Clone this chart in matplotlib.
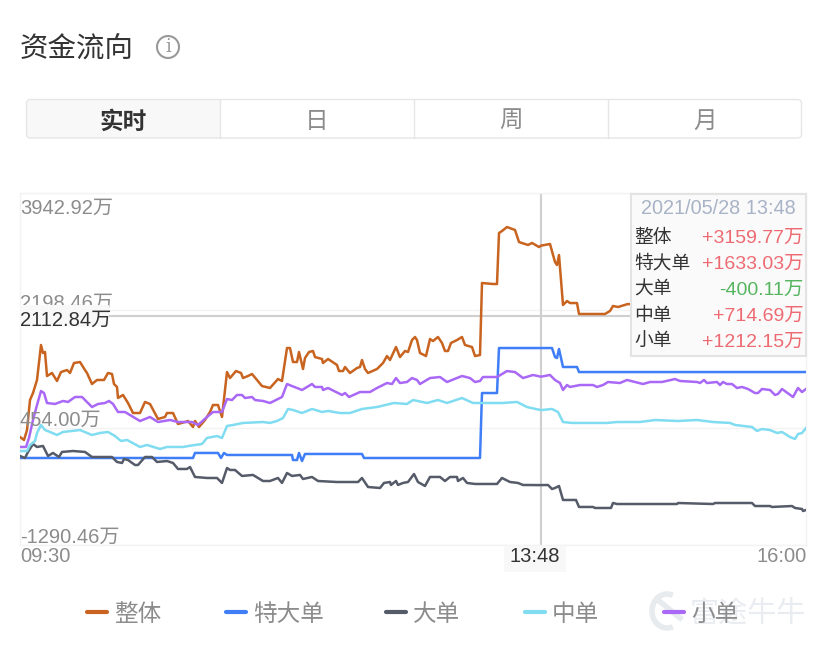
import matplotlib
matplotlib.use('Agg')
import matplotlib.pyplot as plt
from matplotlib.patches import Rectangle, FancyBboxPatch, Circle, Arc

plt.rcParams['font.family'] = ['Liberation Sans', 'Noto Sans CJK SC']

# x = sample index along the trading day (0 = 09:30, 786 = 16:00), values in 万
zhengti = [(0,315),(4,271),(7,419),(10,865),(13,969),(17,1163),(21,1683),(23,1564),(25,1579),(27,1222),(32,1267),
    (37,1148),(41,1281),(47,1311),(50,1267),(54,1415),(60,1430),(65,1311),(67,1267),(72,1103),(77,1163),(84,1163),
    (88,1267),(92,1252),(94,1103),(97,1059),(98,895),(103,940),(108,821),(113,672),(120,672),(125,836),(130,806),
    (138,583),(145,613),(147,672),(153,672),(158,509),(165,538),(168,553),(173,464),(175,553),(179,464),(185,568),
    (190,687),(193,791),(198,791),(202,613),(207,1281),(210,1192),(216,1296),(221,1267),(223,1192),(228,1222),
    (232,1252),(237,1163),(242,1073),(250,1044),(258,1177),(262,1148),(267,1638),(270,1638),(273,1430),(277,1430),
    (279,1579),(283,1326),(285,1490),(289,1579),(293,1594),(295,1504),(302,1475),(303,1415),(308,1475),(317,1386),
    (319,1296),(323,1296),(325,1356),(330,1267),(337,1341),(340,1356),(342,1460),(345,1326),(348,1267),(357,1326),
    (363,1415),(367,1519),(370,1460),(376,1653),(380,1504),(385,1594),(388,1579),(392,1757),(395,1802),(397,1757),
    (400,1564),(406,1519),(410,1772),(413,1742),(418,1802),(422,1713),(425,1594),(428,1594),(431,1713),(437,1757),
    (442,1802),(445,1683),(452,1653),(455,1519),(460,1534),(462,2605),(473,2590),(477,2590),(479,3348),(482,3378),
    (487,3437),(495,3393),(499,3214),(508,3170),(512,3200),(519,3140),(521,3160),(530,3185),(535,2917),(537,2872),
    (539,3021),(543,2278),(547,2337),(550,2307),(557,2307),(559,2144),(573,2144),(585,2144),(590,2189),(593,2263),
    (598,2248),(608,2293),(615,2278)]
tedadan = [(0,3),(173,3),(175,78),(198,78),(201,3),(204,78),(207,48),(272,48),(273,-27),(277,-27),(279,78),(282,-42),
    (285,63),(342,63),(344,3),(460,3),(462,969),(477,969),(479,1638),(532,1638),(535,1504),(537,1490),(539,1623),
    (543,1356),(557,1356),(559,1281),(786,1281)]
dadan = [(0,33),(5,3),(8,93),(13,211),(17,167),(23,182),(28,33),(33,78),(39,18),(42,93),(53,107),(65,93),(72,18),
    (92,18),(97,-56),(102,-71),(104,-12),(108,-27),(115,-101),(118,-101),(125,18),(132,18),(137,-56),(147,-42),
    (153,-71),(158,-160),(167,-160),(170,-131),(175,-279),(187,-294),(197,-294),(202,-368),(207,-146),(210,-175),
    (215,-175),(222,-264),(233,-249),(243,-339),(250,-339),(258,-294),(262,-368),(267,-220),(272,-264),(280,-249),
    (283,-309),(292,-279),(298,-339),(317,-354),(338,-354),(342,-294),(348,-428),(360,-443),(364,-368),(370,-354),
    (371,-398),(376,-339),(378,-398),(383,-368),(388,-354),(394,-235),(398,-354),(405,-413),(410,-279),(420,-279),
    (425,-339),(430,-279),(437,-279),(438,-339),(443,-294),(447,-368),(455,-383),(477,-383),(482,-294),(490,-354),
    (498,-368),(503,-398),(520,-400),(528,-398),(532,-458),(535,-443),(539,-413),(543,-621),(556,-621),(559,-725),
    (573,-725),(575,-740),(591,-740),(593,-666),(597,-681),(657,-681),(658,-666),(693,-681),(695,-666),(732,-666),
    (735,-711),(750,-711),(752,-725),(772,-711),(775,-740),(782,-755),(783,-785),(786,-770)]
zhongdan = [(0,107),(7,107),(10,197),(15,256),(17,375),(21,494),(25,419),(30,390),(37,345),(43,390),(52,405),(60,419),
    (72,345),(80,375),(88,390),(95,330),(101,256),(107,271),(120,167),(127,197),(140,137),(147,167),(163,167),
    (175,197),(182,211),(187,301),(197,330),(202,301),(207,479),(213,494),(223,524),(243,538),(250,524),(257,553),
    (263,598),(268,732),(273,717),(282,672),(292,732),(302,687),(308,702),(320,672),(330,672),(342,732),(357,761),
    (374,821),(387,806),(393,865),(407,821),(418,865),(427,821),(442,895),(453,821),(463,821),(483,821),(497,836),
    (507,761),(521,715),(532,732),(538,687),(543,538),(552,524),(587,524),(597,538),(620,538),(635,568),(658,553),
    (677,568),(693,538),(710,524),(715,494),(732,464),(737,405),(742,434),(750,419),(757,375),(762,390),(770,315),
    (775,286),(778,360),(782,375),(786,449)]
xiaodan = [(0,167),(6,167),(9,301),(13,568),(17,791),(21,999),(24,969),(27,821),(35,806),(43,851),(48,836),(55,910),
    (62,910),(72,761),(78,806),(85,821),(89,851),(93,806),(98,687),(105,687),(110,642),(120,553),(130,613),(138,538),
    (150,568),(158,538),(172,538),(178,494),(187,613),(193,687),(202,687),(207,880),(212,865),(217,940),(222,940),
    (225,895),(232,910),(235,865),(243,851),(250,821),(262,910),(267,1103),(272,1073),(277,1044),(282,1014),(292,1103),
    (295,1059),(302,1059),(303,1014),(308,1044),(322,940),(325,969),(329,910),(340,984),(350,984),(357,1044),(367,1118),
    (372,1103),(376,1192),(380,1118),(387,1133),(392,1192),(397,1163),(400,1103),(410,1192),(420,1207),(427,1133),
    (442,1222),(450,1192),(455,1133),(460,1148),(463,1207),(477,1207),(487,1296),(495,1281),(503,1192),(513,1237),
    (521,1212),(530,1237),(535,1163),(540,1118),(543,1014),(547,1088),(550,1059),(560,1088),(573,1088),(577,1059),
    (583,1088),(588,1133),(600,1118),(607,1163),(623,1103),(630,1133),(642,1133),(655,1177),(660,1148),(677,1133),
    (680,1118),(684,1163),(687,1118),(697,1133),(700,1088),(703,1133),(707,1103),(712,1103),(717,1044),(722,1059),
    (728,1029),(735,969),(738,969),(742,1029),(750,1014),(755,940),(758,955),(762,1029),(773,910),(778,1044),(782,984),
    (786,1029)]

names = ['整体', '特大单', '大单', '中单', '小单']
series = [zhengti, tedadan, dadan, zhongdan, xiaodan]
colors = ['#c8641f', '#3f7ef6', '#565b69', '#80dcf0', '#a968f5']

y_ticks = [3942.92, 2198.46, 454.00, -1290.46]
y_labels = ['3942.92万', '2198.46万', '454.00万', '-1290.46万']
cross_x = 521
cross_y = 2112.84
tip_date = '2021/05/28 13:48'
tip_values = ['+3159.77万', '+1633.03万', '-400.11万', '+714.69万', '+1212.15万']
tabs = ['实时', '日', '周', '月']

fig = plt.figure(figsize=(8.28, 6.49), dpi=100)
ax = fig.add_axes([20/828, (649-545)/649, 786/828, 352/649])
ax.set_xlim(0, 786)
ax.set_ylim(y_ticks[-1], y_ticks[0])
for s in ax.spines.values():
    s.set_color('#f3f3f3')
    s.set_linewidth(1)
ax.set_xticks([])
ax.set_yticks(y_ticks)
ax.tick_params(axis='y', length=0, labelleft=False)
ax.grid(axis='y', color='#f3f3f3', lw=1)

ax.axvline(cross_x, color='#cfcfcf', lw=1.5, zorder=2)
ax.axhline(cross_y, color='#cfcfcf', lw=1.5, zorder=2)

for pts, c in zip(series, colors):
    ax.plot([p[0] for p in pts], [p[1] for p in pts], color=c, lw=1.8, zorder=3, solid_joinstyle='round')

# y labels sit just above their grid line, except the top one
for v, t in zip(y_ticks, y_labels):
    off, va = (-4, 'top') if v == y_ticks[0] else (-1.5, 'bottom')
    ax.annotate(t, (0, v), xytext=(0, off), textcoords='offset points', va=va, ha='left',
                fontsize=14.5, color='#8c8c8c', zorder=4, annotation_clip=False)

# everything else is placed in pixel coordinates
ui = fig.add_axes([0, 0, 1, 1], zorder=5)
ui.set_xlim(0, 828)
ui.set_ylim(649, 0)
ui.axis('off')
ui.patch.set_alpha(0)

ui.text(20, 50, '资金流向', fontsize=20.5, color='#333333', va='center')
ui.add_patch(Circle((168, 47), 11, fc='white', ec='#999999', lw=1.5))
ui.text(168, 47.5, 'i', fontsize=13, family='DejaVu Serif', color='#999999', ha='center', va='center')

ui.add_patch(Rectangle((27, 100), 193, 38, fc='#f8f8f8', ec='none'))
ui.add_patch(FancyBboxPatch((26.5, 99.5), 775, 38.5, boxstyle='round,pad=0,rounding_size=4', fc='none', ec='#e6e6e6', lw=1))
for x in [220, 414, 608]:
    ui.plot([x, x], [100, 138], color='#e6e6e6', lw=1)
for i, t in enumerate(tabs):
    if i == 0:
        ui.text(123, 122, t, fontsize=17, color='#333333', ha='center', va='center', fontweight='bold')
    else:
        ui.text(123 + i*194, 122, t, fontsize=17, color='#8c8c8c', ha='center', va='center')

# crosshair labels
ui.add_patch(Rectangle((20, 305), 89, 22, fc='#f8f8f8', ec='none'))
ui.text(20, 320, '2112.84万', fontsize=14.5, color='#333333', va='center')
ui.add_patch(Rectangle((504, 546), 62, 26, fc='#f8f8f8', ec='none'))
ui.text(535, 556, '13:48', fontsize=14.5, color='#333333', ha='center', va='center')
ui.text(20, 556, '09:30', fontsize=14.5, color='#8c8c8c', va='center')
ui.text(807, 556, '16:00', fontsize=14.5, color='#8c8c8c', ha='right', va='center')

# tooltip
ui.add_patch(Rectangle((631, 194), 175, 162, fc='#fafafa', ec='#e3e3e3', lw=1.5))
ui.text(718, 208, tip_date, fontsize=14.3, color='#a8b3c6', ha='center', va='center')
for i, (n, v) in enumerate(zip(names, tip_values)):
    y = 238 + i*26
    ui.text(634, y, n, fontsize=13.5, color='#333333', va='center')
    ui.text(804, y, v, fontsize=14, color='#56b560' if v[0] == '-' else '#ee6a72', ha='right', va='center')

# watermark under the legend
ui.add_patch(Arc((667, 611), 30, 34, theta1=70, theta2=290, color='#e8ebee', lw=4))
ui.plot([658, 680], [600, 618], color='#e8ebee', lw=4)
ui.text(690, 615, '富途牛牛', fontsize=21, color='#e9ecf0', va='center')

legend_x = [87, 226, 386, 525, 664]
for x, n, c in zip(legend_x, names, colors):
    ui.plot([x, x + 20], [612, 612], color=c, lw=3, solid_capstyle='round')
    ui.text(x + 27, 615, n, fontsize=17, color='#8c8c8c', va='center')

fig.savefig('out.png', dpi=100)
